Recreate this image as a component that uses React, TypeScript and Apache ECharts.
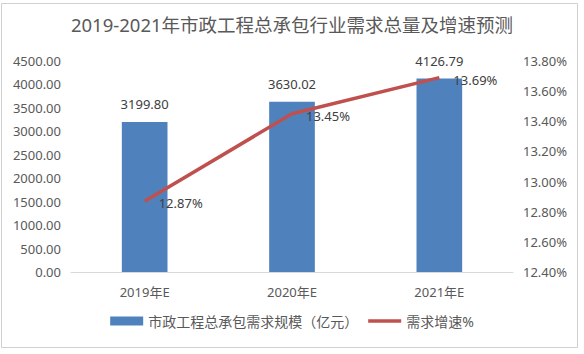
import React, { useEffect, useRef } from "react";
import * as echarts from "echarts";

const title = "2019-2021年市政工程总承包行业需求总量及增速预测";
const categories = ["2019年E", "2020年E", "2021年E"];
const scaleValues = [3199.8, 3630.02, 4126.79];
const growthValues = [12.87, 13.45, 13.69];
const barName = "市政工程总承包需求规模（亿元）";
const lineName = "需求增速%";

export default function App() {
  const ref = useRef<HTMLDivElement>(null);
  useEffect(() => {
    document.body.style.margin = "0";
    const chart = echarts.init(ref.current!, null, { renderer: "svg" });
    const font = "'Noto Sans', 'Noto Sans CJK SC', sans-serif";
    chart.setOption({
      animation: false,
      backgroundColor: "#ffffff",
      textStyle: { fontFamily: font },
      title: {
        text: title,
        left: "center",
        top: 10,
        textStyle: { fontSize: 18.5, fontWeight: "normal", color: "#595959", fontFamily: font },
      },
      graphic: [
        {
          type: "rect",
          shape: { x: 1.5, y: 3.5, width: 576, height: 344 },
          style: { fill: "none", stroke: "#D0D0D0", lineWidth: 1 },
          silent: true,
        },
      ],
      legend: {
        bottom: 21,
        left: "center",
        itemGap: 10,
        itemWidth: 33,
        itemHeight: 9,
        textStyle: { fontSize: 14, color: "#595959", fontFamily: font },
        data: [
          { name: barName, icon: "rect" },
          { name: lineName, icon: "path://M0,0L10,0L10,1L0,1Z" },
        ],
      },
      grid: { left: 71, right: 71, top: 61, bottom: 82 },
      xAxis: {
        type: "category",
        data: categories,
        axisLine: { lineStyle: { color: "#D9D9D9" } },
        axisTick: { show: false },
        axisLabel: { color: "#595959", fontSize: 13, margin: 13 },
      },
      yAxis: [
        {
          type: "value",
          min: 0,
          max: 4500,
          interval: 500,
          splitLine: { show: false },
          axisLine: { show: false },
          axisLabel: {
            color: "#595959",
            fontSize: 13,
            margin: 10,
            formatter: (v: number) => v.toFixed(2),
          },
        },
        {
          type: "value",
          min: 12.4,
          max: 13.8,
          interval: 0.2,
          splitLine: { show: false },
          axisLine: { show: false },
          axisLabel: {
            color: "#595959",
            fontSize: 13,
            margin: 10,
            formatter: (v: number) => v.toFixed(2) + "%",
          },
        },
      ],
      series: [
        {
          name: barName,
          type: "bar",
          data: scaleValues,
          barWidth: "31%",
          itemStyle: { color: "#4F81BD" },
          label: {
            show: true,
            position: "top",
            distance: 11,
            fontSize: 13,
            color: "#404040",
            formatter: (p: any) => p.value.toFixed(2),
          },
        },
        {
          name: lineName,
          type: "line",
          yAxisIndex: 1,
          data: growthValues,
          showSymbol: true,
          symbol: "circle",
          symbolSize: 0,
          lineStyle: { color: "#C0504D", width: 3.5 },
          itemStyle: { color: "#C0504D" },
          label: {
            show: true,
            position: "right",
            distance: 14,
            offset: [0, 2],
            fontSize: 13,
            color: "#404040",
            formatter: (p: any) => p.value.toFixed(2) + "%",
          },
        },
      ],
    });
    return () => chart.dispose();
  }, []);
  return <div ref={ref} style={{ width: 584, height: 354 }} />;
}
